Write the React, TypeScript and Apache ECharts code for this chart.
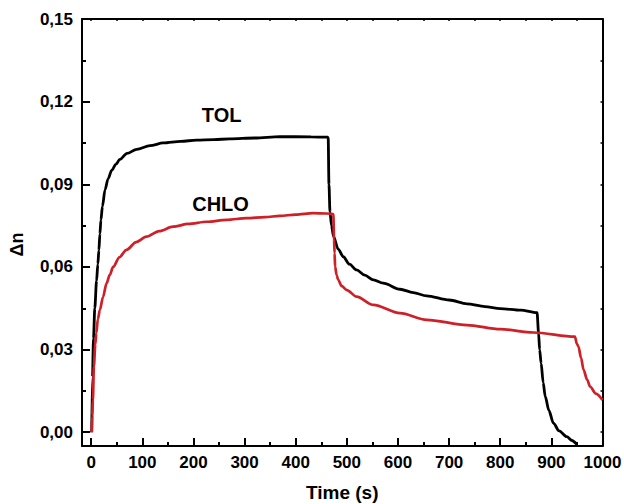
import React, { useEffect, useRef } from "react";
import * as echarts from "echarts";

// ---- data ----
const tolTime = [1, 2.5, 4.5, 7, 10.5, 13, 15, 17, 19, 22, 27, 33, 40, 48, 56, 70, 89, 115, 141, 175, 206, 240, 271, 320, 369, 430, 462, 463.5, 465, 467, 470, 474, 483, 493, 505, 519, 535, 552, 571, 604, 630, 656, 700, 735, 770, 800, 840, 872, 875, 877, 880, 884, 888, 895, 904, 915, 930, 940, 950];
const tolValue = [0, 0.02, 0.034, 0.045, 0.055, 0.061, 0.066, 0.072, 0.077, 0.082, 0.088, 0.092, 0.095, 0.0972, 0.099, 0.1012, 0.1027, 0.104, 0.105, 0.1056, 0.106, 0.1062, 0.1065, 0.1068, 0.1073, 0.1072, 0.1071, 0.1068, 0.09, 0.08, 0.075, 0.071, 0.0665, 0.0637, 0.061, 0.0589, 0.057, 0.0553, 0.0541, 0.0519, 0.0507, 0.0495, 0.048, 0.0466, 0.0456, 0.0449, 0.0443, 0.0434, 0.036, 0.03, 0.025, 0.018, 0.013, 0.008, 0.0033, 0.0005, -0.0016, -0.003, -0.0045];

const chloTime = [1, 2, 3.3, 5.3, 8, 10, 13, 17, 23, 30, 36, 43, 55, 69, 88, 108, 133, 160, 190, 226, 265, 304, 340, 369, 400, 434, 460, 473.5, 475, 476, 477, 480, 483, 490, 500, 519, 552, 604, 656, 735, 800, 865, 946, 950, 953, 958, 963, 970, 976, 987, 1000];
const chloValue = [0, 0.006, 0.0117, 0.024, 0.032, 0.036, 0.041, 0.0444, 0.049, 0.054, 0.057, 0.06, 0.0635, 0.0662, 0.069, 0.071, 0.073, 0.0746, 0.0756, 0.0764, 0.0771, 0.0777, 0.0781, 0.0785, 0.079, 0.0795, 0.0794, 0.0792, 0.07, 0.065, 0.0601, 0.057, 0.0553, 0.053, 0.0516, 0.0492, 0.0462, 0.0432, 0.0408, 0.0389, 0.0374, 0.0362, 0.0347, 0.032, 0.0311, 0.027, 0.0226, 0.019, 0.0165, 0.014, 0.0117];

const xMajorTicks = [0, 100, 200, 300, 400, 500, 600, 700, 800, 900, 1000];
const xMinorTicks = [50, 150, 250, 350, 450, 550, 650, 750, 850, 950];
const xTopTicks = [0, 50, 100, 150, 200, 250, 300, 350, 400, 450, 500, 550, 600, 650, 700, 750, 800, 850, 900, 950];
const yMajorTicks = [0, 0.03, 0.06, 0.09, 0.12, 0.15];
const yMinorTicks = [0.015, 0.045, 0.075, 0.105, 0.135];
const yRightTicks = [0, 0.015, 0.03, 0.045, 0.06, 0.075, 0.09, 0.105, 0.12, 0.135];

const X_MIN = -18;
const X_MAX = 1000;
const Y_MIN = -0.005;
const Y_MAX = 0.15;

const seriesNames = ["TOL", "CHLO"];
const labelPositions: [number, number][] = [
  [255, 0.1153],
  [253, 0.083],
];

const FONT = "'Liberation Sans', Arial, sans-serif";
const RED = "#cf1f27";

const zip = (xs: number[], ys: number[]) => xs.map((x, i) => [x, ys[i]]);

export default function App() {
  const ref = useRef<HTMLDivElement>(null);

  useEffect(() => {
    if (!ref.current) return;
    const chart = echarts.init(ref.current, null, { renderer: "svg" });

    const lineStyle = { color: "#000", width: 2 };
    const hidden = { show: false };
    const axisLineOn = { show: true, onZero: false, lineStyle };
    const axisLineOff = { show: false, onZero: false };

    chart.setOption({
      animation: false,
      backgroundColor: "#fff",
      grid: { left: 82, top: 19, right: 21.5, bottom: 58, containLabel: false, outerBoundsMode: "none" },
      xAxis: [
        {
          type: "value",
          min: X_MIN,
          max: X_MAX,
          position: "bottom",
          name: "Time (s)",
          nameLocation: "middle",
          nameGap: 37,
          nameTextStyle: { fontFamily: FONT, fontWeight: "bold", fontSize: 19, lineHeight: 19, color: "#000" },
          axisLine: axisLineOn,
          axisTick: { show: true, inside: true, length: 8, lineStyle, customValues: xMajorTicks },
          axisLabel: {
            show: true,
            customValues: xMajorTicks,
            margin: 8,
            fontFamily: FONT,
            fontWeight: "bold",
            fontSize: 17,
            color: "#000",
            formatter: (v: number) => String(v),
          },
          splitLine: hidden,
        },
        {
          type: "value",
          min: X_MIN,
          max: X_MAX,
          position: "bottom",
          axisLine: axisLineOff,
          axisTick: { show: true, inside: true, length: 4, lineStyle, customValues: xMinorTicks },
          axisLabel: hidden,
          splitLine: hidden,
        },
        {
          type: "value",
          min: X_MIN,
          max: X_MAX,
          position: "top",
          axisLine: axisLineOn,
          axisTick: { show: true, inside: true, length: 2, lineStyle: { color: "#000", width: 1.5 }, customValues: xTopTicks },
          axisLabel: hidden,
          splitLine: hidden,
        },
      ],
      yAxis: [
        {
          type: "value",
          min: Y_MIN,
          max: Y_MAX,
          position: "left",
          name: "Δn",
          nameLocation: "middle",
          nameGap: 56,
          nameTextStyle: {
            fontFamily: FONT,
            fontWeight: "bold",
            fontSize: 18,
            color: "#000",
            padding: [0, 24, 0, 0],
          },
          axisLine: axisLineOn,
          axisTick: { show: true, inside: true, length: 8, lineStyle, customValues: yMajorTicks },
          axisLabel: {
            show: true,
            customValues: yMajorTicks,
            margin: 9,
            fontFamily: FONT,
            fontWeight: "bold",
            fontSize: 17,
            color: "#000",
            formatter: (v: number) => v.toFixed(2).replace(".", ","),
          },
          splitLine: hidden,
        },
        {
          type: "value",
          min: Y_MIN,
          max: Y_MAX,
          position: "left",
          axisLine: axisLineOff,
          axisTick: { show: true, inside: true, length: 4, lineStyle, customValues: yMinorTicks },
          axisLabel: hidden,
          splitLine: hidden,
        },
        {
          type: "value",
          min: Y_MIN,
          max: Y_MAX,
          position: "right",
          axisLine: axisLineOn,
          axisTick: { show: true, inside: true, length: 2, lineStyle: { color: "#000", width: 1.5 }, customValues: yRightTicks },
          axisLabel: hidden,
          splitLine: hidden,
        },
      ],
      series: [
        {
          name: seriesNames[0],
          type: "line",
          xAxisIndex: 0,
          yAxisIndex: 0,
          data: zip(tolTime, tolValue),
          showSymbol: false,
          symbol: "none",
          smooth: 0.3,
          smoothMonotone: "x",
          lineStyle: { color: "#000", width: 2.8 },
          z: 2,
        },
        {
          name: seriesNames[1],
          type: "line",
          xAxisIndex: 0,
          yAxisIndex: 0,
          data: zip(chloTime, chloValue),
          showSymbol: false,
          symbol: "none",
          smooth: 0.3,
          smoothMonotone: "x",
          lineStyle: { color: RED, width: 2.7 },
          z: 3,
        },
      ],
    });

    const graphics = labelPositions.map((p, i) => {
      const px = chart.convertToPixel({ xAxisIndex: 0, yAxisIndex: 0 }, p) as number[];
      return {
        type: "text",
        x: px[0],
        y: px[1],
        style: {
          text: seriesNames[i],
          fill: "#000",
          font: `bold 20px ${FONT}`,
          textAlign: "center",
          textVerticalAlign: "middle",
        },
        z: 10,
      };
    });
    chart.setOption({ graphic: graphics });

    return () => chart.dispose();
  }, []);

  return (
    <div
      ref={ref}
      style={{ position: "fixed", left: 0, top: 0, width: 624, height: 504, background: "#fff" }}
    />
  );
}
